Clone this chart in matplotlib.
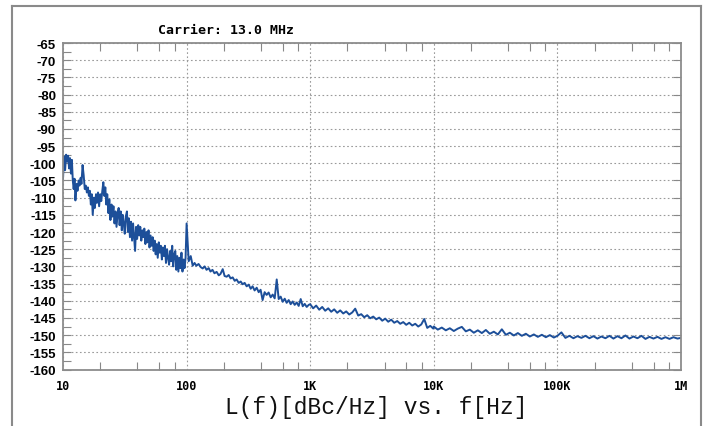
import numpy as np
import matplotlib
matplotlib.use("Agg")
import matplotlib.pyplot as plt
from matplotlib.ticker import FixedLocator, FixedFormatter, LogLocator, NullFormatter, MultipleLocator
from matplotlib.lines import Line2D

plt.rcParams['axes.unicode_minus'] = False

# offset frequency [Hz], 10 Hz - 100 Hz decade
freq_d1 = [10.0, 10.2, 10.4, 10.6, 10.8, 11.0, 11.2, 11.4, 11.6, 11.8,
           12.0, 12.2, 12.4, 12.6, 12.9, 13.1, 13.4, 13.6, 13.9, 14.1,
           14.4, 14.7, 15.0, 15.3, 15.6, 15.9, 16.2, 16.5, 16.8, 17.1,
           17.4, 17.8, 18.1, 18.5, 18.8, 19.2, 19.6, 20.0, 20.4, 20.8,
           21.2, 21.6, 22.0, 22.4, 22.8, 23.3, 23.7, 24.2, 24.7, 25.1,
           25.6, 26.1, 26.6, 27.1, 27.7, 28.2, 28.7, 29.3, 29.9, 30.4,
           31.0, 31.6, 32.2, 32.9, 33.5, 34.1, 34.8, 35.5, 36.2, 36.9,
           37.6, 38.3, 39.0, 39.8, 40.6, 41.4, 42.2, 43.0, 43.8, 44.7,
           45.5, 46.4, 47.3, 48.2, 49.2, 50.1, 51.1, 52.1, 53.1, 54.1,
           55.2, 56.2, 57.3, 58.4, 59.6, 60.7, 61.9, 63.1, 64.3, 65.6,
           66.8, 68.1, 69.5, 70.8, 72.2, 73.6, 75.0, 76.5, 77.9, 79.4,
           81.0, 82.5, 84.1, 85.8, 87.4, 89.1, 90.9, 92.6, 94.4, 96.2,
           98.1]
lf_d1 = [-104.5, -98.0, -102.0, -97.5, -99.5, -97.8, -101.5, -98.5, -103.0, -99.0,
         -105.0, -107.5, -104.5, -110.8, -106.0, -108.0, -105.0, -106.5, -104.2, -106.0,
         -100.5, -103.5, -107.5, -106.5, -108.5, -107.0, -109.5, -108.0, -112.0, -109.0,
         -115.0, -110.0, -113.0, -109.0, -111.5, -108.5, -112.5, -109.0, -111.0, -108.0,
         -105.5, -109.5, -107.0, -112.0, -109.0, -114.5, -110.5, -116.5, -112.0, -115.5,
         -112.5, -117.5, -114.0, -118.5, -114.5, -113.0, -118.0, -114.0, -119.5, -115.0,
         -117.5, -120.5, -115.5, -114.0, -120.0, -116.0, -121.5, -117.0, -122.5, -117.5,
         -121.5, -125.5, -118.5, -122.0, -118.0, -121.0, -118.5, -122.5, -119.5, -121.5,
         -119.0, -123.5, -120.0, -123.0, -119.5, -124.5, -121.0, -124.0, -121.5, -125.5,
         -122.5, -126.5, -123.5, -127.5, -123.0, -126.0, -124.0, -128.0, -124.5, -127.0,
         -124.0, -129.0, -125.0, -127.5, -129.5, -125.5, -128.5, -124.0, -130.0, -126.5,
         -125.5, -131.0, -127.0, -131.5, -127.5, -130.5, -126.0, -131.5, -128.0, -130.5,
         -127.5]

# 100 Hz - 1 kHz
freq_d2 = [100, 104, 108, 112, 116, 120, 125, 130, 135, 140,
           145, 151, 156, 162, 168, 175, 182, 188, 196, 203,
           211, 219, 227, 236, 245, 254, 264, 274, 284, 295,
           306, 318, 330, 342, 355, 369, 383, 397, 412, 428,
           444, 461, 479, 497, 516, 536, 556, 577, 599, 622,
           645, 670, 695, 722, 749, 778, 807, 838, 870, 903,
           937, 973]
lf_d2 = [-117.5, -128.5, -127.0, -129.8, -129.0, -129.8, -129.3, -130.2, -130.6, -130.0,
         -131.0, -130.5, -131.5, -131.0, -132.0, -131.6, -132.6, -132.2, -130.8, -132.8,
         -133.0, -132.5, -133.5, -133.2, -134.2, -133.8, -134.8, -134.4, -135.2, -134.8,
         -135.8, -135.3, -136.5, -135.8, -137.0, -136.2, -137.5, -136.8, -139.8, -137.5,
         -138.3, -137.6, -139.0, -138.2, -139.3, -133.8, -139.5, -138.8, -140.3, -139.4,
         -140.6, -139.8, -141.0, -140.2, -141.2, -140.5, -141.5, -139.5, -141.6, -140.9,
         -141.8, -141.2]

# 1 kHz - 10 kHz
freq_d3 = [1000, 1057, 1118, 1183, 1251, 1322, 1399, 1479, 1564, 1654,
           1749, 1850, 1956, 2069, 2188, 2313, 2446, 2587, 2736, 2893,
           3059, 3235, 3421, 3618, 3826, 4046, 4279, 4525, 4785, 5060,
           5351, 5659, 5984, 6328, 6692, 7077, 7484, 7914, 8369, 8850,
           9359, 9897]
lf_d3 = [-141.0, -142.2, -141.4, -142.6, -141.8, -142.9, -142.2, -143.2, -142.5, -143.5,
         -142.8, -143.7, -143.1, -144.0, -143.4, -142.3, -144.3, -143.9, -144.8, -144.2,
         -145.1, -144.6, -145.4, -144.9, -145.8, -145.2, -146.1, -145.5, -146.4, -145.9,
         -146.7, -146.2, -147.0, -146.4, -147.2, -146.7, -147.5, -146.9, -145.3, -147.9,
         -147.3, -148.1]

# 10 kHz - 100 kHz
freq_d4 = [10000, 10774, 11608, 12507, 13475, 14518, 15642, 16853, 18157, 19563,
           21077, 22709, 24466, 26361, 28401, 30600, 32968, 35520, 38270, 41232,
           44424, 47863, 51568, 55560, 59860, 64494, 69487, 74866, 80661, 86905,
           93633]
lf_d4 = [-147.5, -148.4, -147.8, -148.6, -148.0, -148.8, -148.1, -147.6, -148.9, -148.4,
         -149.3, -148.6, -149.4, -148.5, -149.6, -149.0, -149.8, -148.3, -149.9, -149.3,
         -150.1, -149.4, -150.2, -149.6, -150.4, -149.8, -150.5, -149.9, -150.6, -150.0,
         -150.7]

# 100 kHz - 1 MHz
freq_d5 = [100000, 107740, 116080, 125070, 134750, 145180, 156420, 168530, 181570, 195630,
           210770, 227090, 244660, 263610, 284010, 306000, 329680, 355200, 382700, 412320,
           444240, 478630, 515680, 555600, 598600, 644940, 694870, 748660, 806610, 869050,
           936330, 1000000]
lf_d5 = [-150.2, -149.2, -150.8, -150.2, -150.9, -150.3, -150.8, -150.2, -150.9, -150.3,
         -151.0, -150.4, -150.9, -150.2, -151.0, -150.3, -150.9, -150.1, -151.0, -150.4,
         -150.9, -150.2, -151.1, -150.5, -151.0, -150.5, -151.1, -150.6, -151.1, -150.6,
         -151.0, -150.8]

freq = freq_d1 + freq_d2 + freq_d3 + freq_d4 + freq_d5
lf = lf_d1 + lf_d2 + lf_d3 + lf_d4 + lf_d5

x_ticks = [10, 100, 1e3, 1e4, 1e5, 1e6]
x_labels = ['10', '100', '1K', '10K', '100K', '1M']
y_ticks = list(range(-160, -64, 5))

fig = plt.figure(figsize=(7.07, 4.27), dpi=100)
ax = fig.add_axes([63/707, 1 - 370.5/427, 618/707, 326.5/427])

ax.plot(freq, lf, color='#1d4f99', linewidth=1.4)

ax.set_xscale('log')
ax.set_xlim(10, 1e6)
ax.set_ylim(-160, -65)

ax.xaxis.set_major_locator(FixedLocator(x_ticks))
ax.xaxis.set_major_formatter(FixedFormatter(x_labels))
ax.xaxis.set_minor_locator(LogLocator(base=10, subs=(2, 4, 6, 8), numticks=20))
ax.xaxis.set_minor_formatter(NullFormatter())
ax.yaxis.set_major_locator(FixedLocator(y_ticks))
ax.yaxis.set_minor_locator(MultipleLocator(2.5))

ax.grid(True, which='major', color='#9a9a9a', linestyle=(0, (1.5, 2.2)), linewidth=0.8)

ax.tick_params(axis='x', which='both', direction='in', top=True, bottom=True,
               length=0, color='#888888', width=0.8, pad=7)
ax.tick_params(axis='x', which='minor', length=6)
ax.tick_params(axis='y', which='major', direction='in', left=True, right=True,
               length=6, color='#888888', width=0.8, pad=5)
ax.tick_params(axis='y', which='minor', direction='in', left=True, right=False,
               length=6, color='#888888', width=0.8)

for lab in ax.get_yticklabels():
    lab.set_fontfamily('Liberation Sans')
    lab.set_fontweight('bold')
    lab.set_fontsize(9.5)
for lab in ax.get_xticklabels():
    lab.set_fontfamily('DejaVu Sans Mono')
    lab.set_fontweight('bold')
    lab.set_fontsize(8.5)

for sp in ax.spines.values():
    sp.set_color('#8c8c8c')
    sp.set_linewidth(1.3)

fig.text(226/707, 1 - 31/427, 'Carrier: 13.0 MHz', ha='center', va='center',
         family='DejaVu Sans Mono', fontweight='bold', fontsize=9.5)
fig.text(376/707, 1 - 408/427, 'L(f)[dBc/Hz] vs. f[Hz]', ha='center', va='center',
         family='Liberation Mono', fontsize=16.5, color='#111111')

# outer frame
frame_col = '#8a8a8a'
fig.add_artist(Line2D([12/707, 12/707], [0, 1 - 7/427], color=frame_col, lw=1.5))
fig.add_artist(Line2D([12/707, 701/707], [1 - 7/427, 1 - 7/427], color=frame_col, lw=1.5))
fig.add_artist(Line2D([701/707, 701/707], [0, 1 - 7/427], color=frame_col, lw=1.5))

fig.savefig('out.png', dpi=100)
